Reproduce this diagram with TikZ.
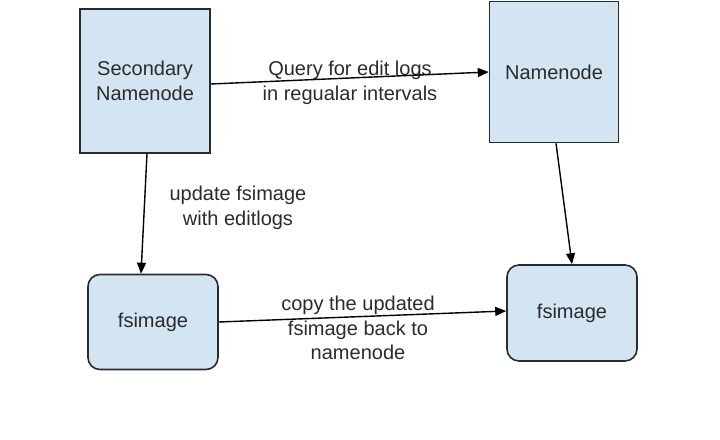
\documentclass[tikz,border=0pt]{standalone}
\usepackage{fontspec}
\setmainfont{Liberation Sans}
\usepackage{xcolor}
\usepackage{tikz}
\usetikzlibrary{arrows.meta,positioning}
\definecolor{boxfill}{HTML}{D3E4F3}
\definecolor{ink}{HTML}{2B2B2B}

\begin{document}
\begin{tikzpicture}[x=1pt, y=-1pt, >={Triangle[length=11pt,width=9pt]}, every node/.style={font=\fontsize{20}{24.5}\selectfont, text=ink}, box/.style={draw=ink,line width=1.6pt,fill=boxfill,align=center,inner sep=0pt}, rbox/.style={box,rounded corners=12pt}, line/.style={->,line width=1.4pt,draw=black}, lbl/.style={align=center,inner sep=0pt}]
\useasboundingbox (0,0) rectangle (720,439);
\node[box,minimum width=130pt,minimum height=144pt] (secnn) at (145,81) {Secondary\\Namenode};
\node[box,minimum width=129pt,minimum height=141pt] (nn) at (554,72) {Namenode};
\node[rbox,minimum width=130pt,minimum height=95pt] (fsleft) at (153,322) {fsimage};
\node[rbox,minimum width=130pt,minimum height=96pt] (fsright) at (572,313) {fsimage};
\node[lbl] (query) at (350,83) {Query for edit logs\\in regualar intervals};
\node[lbl] (update) at (238,208) {update fsimage\\with editlogs};
\node[lbl] (copy) at (358,328) {copy the updated\\fsimage back to\\namenode};
\draw[line] ([yshift=-3pt]secnn.east) -- (nn.west);
\draw[line] ([xshift=2pt]secnn.south) -- ([xshift=-12pt]fsleft.north);
\draw[line] ([xshift=2pt]nn.south) -- (fsright.north);
\draw[line] (fsleft.east) -- ([yshift=2pt]fsright.west);
\end{tikzpicture}
\end{document}
